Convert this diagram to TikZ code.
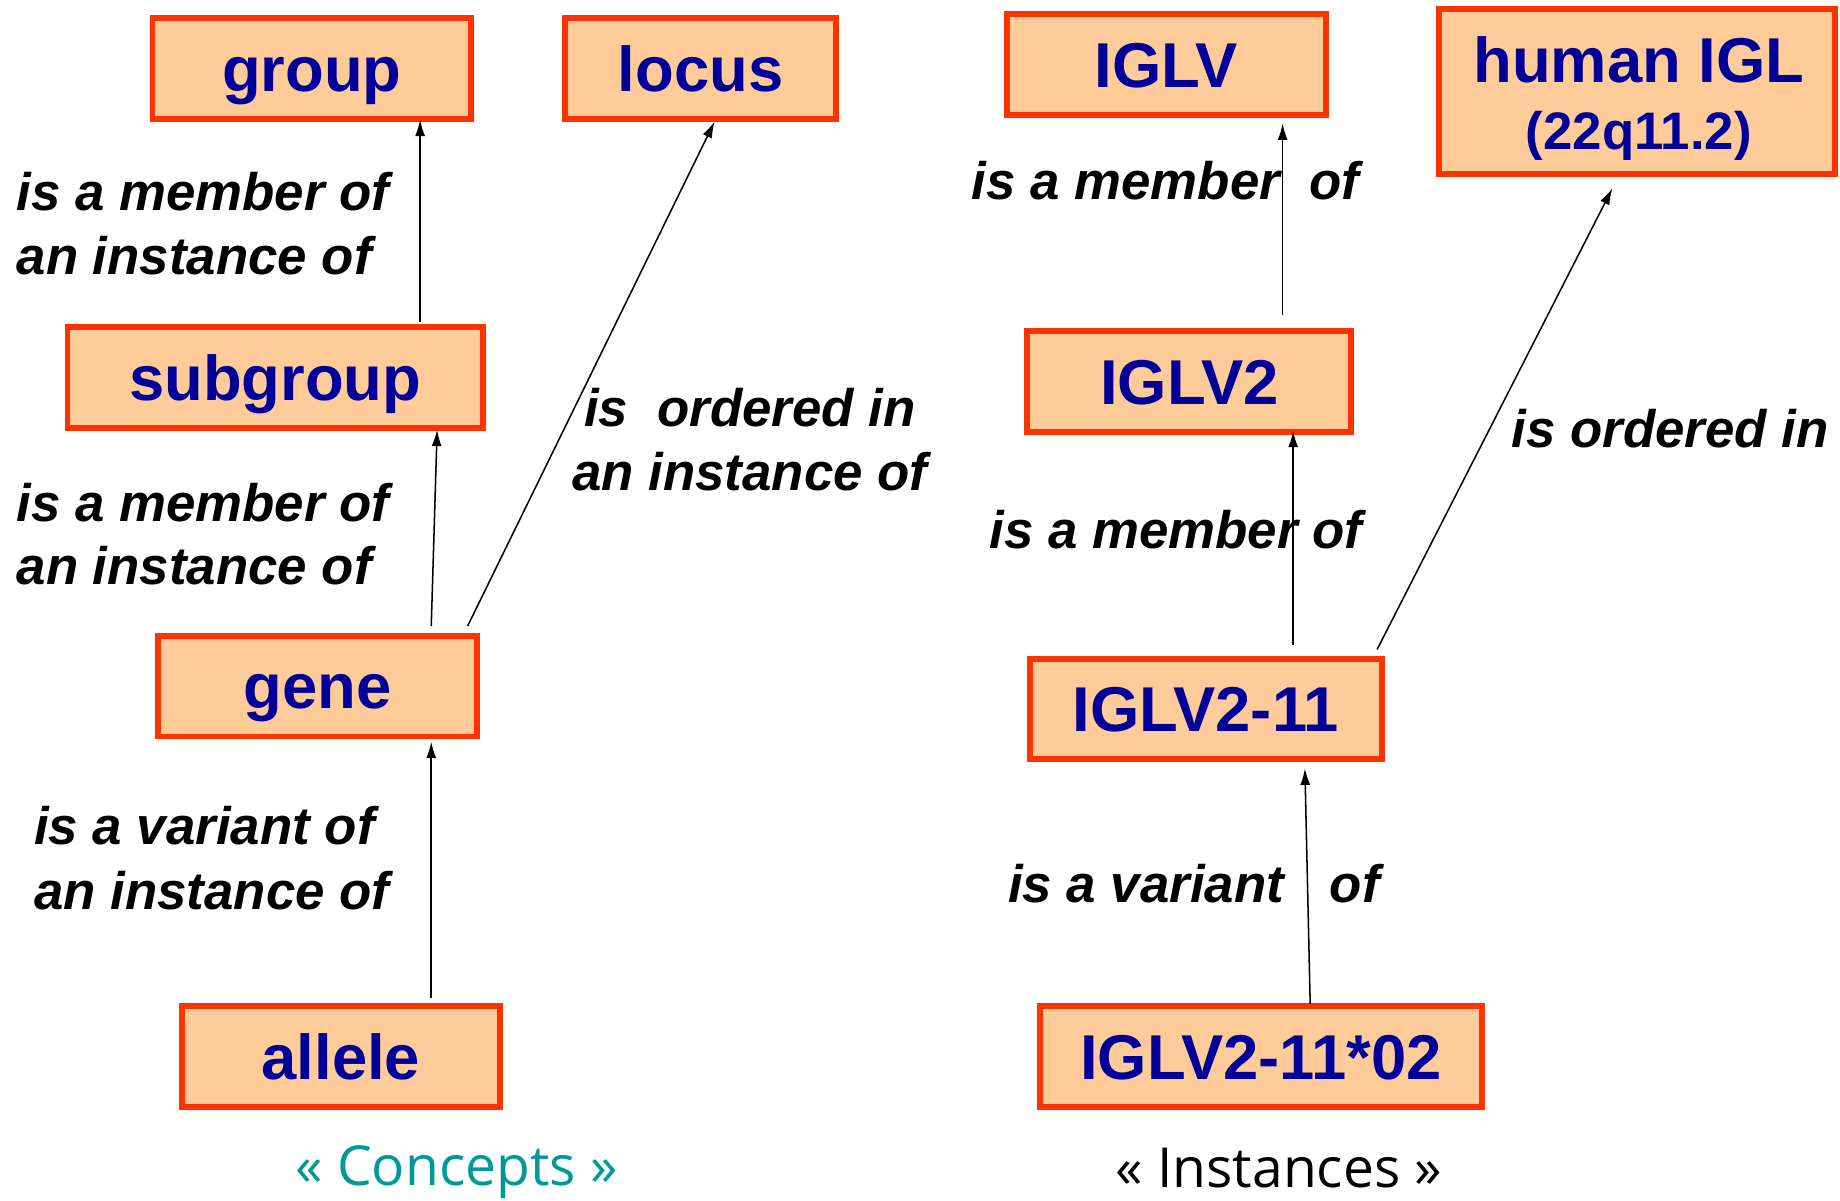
\documentclass[tikz,border=0pt]{standalone}
\usepackage{fontspec}
\setmainfont{Liberation Sans}
\newfontfamily\capfont{Open Sans}
\usetikzlibrary{arrows.meta,calc}
\definecolor{boxfill}{HTML}{FFCC99}
\definecolor{boxline}{HTML}{FF3300}
\definecolor{boxtext}{HTML}{000099}
\definecolor{capteal}{HTML}{009999}
\begin{document}
\begin{tikzpicture}[x=1pt,y=-1pt,
  box/.style={draw=boxline, fill=boxfill, line width=5pt, inner sep=0pt,
    minimum height=85.7pt, text=boxtext,
    font=\fontsize{54}{60}\selectfont\bfseries, text height=38.7pt, text depth=0pt},
  boxtxt/.style={anchor=base, inner sep=0pt, text=boxtext},
  lbl/.style={anchor=base west, inner sep=0pt, font=\fontsize{45}{50}\selectfont\bfseries\itshape},
  captext/.style={anchor=base west, inner sep=0pt, font=\fontsize{47}{52}\selectfont\capfont},
  arr/.style={line width=1.3pt, -{Latex[length=14pt,width=8.5pt]}}]
\useasboundingbox (0,0) rectangle (1568,1023.4);

% concept boxes
\node[box, minimum width=271.5pt] (group) at (265.75,58.35) {group};
\node[box, minimum width=231pt] (locus) at (597,58.35) {locus};
\node[box, minimum width=354pt] (subgroup) at (234.5,321.75) {subgroup};
\node[box, minimum width=271.5pt] (gene) at (270.75,584.75) {gene};
\node[box, minimum width=271pt] (allele) at (290.5,900.3) {allele};

% instance boxes
\node[box, minimum width=272pt] (iglv) at (994,55.1) {IGLV};
\node[box, minimum width=337pt, minimum height=140.8pt] (human) at (1395,77.8) {};
\node[boxtxt, font=\fontsize{54}{60}\selectfont\bfseries] (humanA) at (1396.5,70) {human IGL};
\node[boxtxt, font=\fontsize{45}{50}\selectfont\bfseries] (humanB) at (1396.5,127) {(22q11.2)};
\node[box, minimum width=276pt] (iglv2) at (1013.5,325.1) {IGLV2};
\node[box, minimum width=300pt] (iglv211) at (1027.5,604.25) {IGLV2-11};
\node[box, minimum width=376.5pt] (allele02) at (1074.75,900.3) {IGLV2-11*02};

% arrows
\draw[arr] ($(subgroup.north)+(123.5,-2.4)$) -- ($(group.south)+(92.25,-1.7)$);
\draw[arr] ($(gene.north)+(96.75,-5.9)$) -- ($(subgroup.south)+(138,-1)$);
\draw[arr] ($(gene.north)+(127.75,-5.9)$) -- ($(locus.south)+(12,-0.2)$);
\draw[arr] ($(allele.north)+(77,-4.85)$) -- ($(gene.south)+(96.75,1.9)$);
\draw[arr] ($(iglv2.north)+(79.5,-10.95)$) -- ($(iglv.south)+(99,4.75)$);
\draw[arr] ($(iglv211.north)+(74.5,-9.4)$) -- ($(iglv2.south)+(88.5,-3.35)$);
\draw[arr] ($(iglv211.north)+(146,-5.4)$) -- ($(human.south)+(-21,9.8)$);
\draw[arr] ($(allele02.north)+(41.75,0.55)$) -- ($(iglv211.south)+(84.5,5.3)$);

% labels (concepts)
\node[lbl] (l1a) at (14,179) {is a member of};
\node[lbl] (l1b) at (14,234) {an instance of};
\node[lbl] (l2a) at (14,444) {is a member of};
\node[lbl] (l2b) at (14,498) {an instance of};
\node[lbl] (l3a) at (497.5,363.6) {is\ \ ordered in};
\node[lbl] (l3b) at (487.5,418) {an instance of};
\node[lbl] (l4a) at (29,720) {is a variant of};
\node[lbl] (l4b) at (29,775) {an instance of};

% labels (instances)
\node[lbl] (r1) at (828,170) {is a member\ \ of};
\node[lbl] (r2) at (1288,381.5) {is ordered in};
\node[lbl] (r3) at (843,467) {is a member of};
\node[lbl] (r4) at (859,768.7) {is a variant\hspace{39pt}of};

% captions
\node[captext, text=capteal] (concepts) at (251.5,1010) {« Concepts »};
\node[captext, text=black] (instances) at (950.5,1012) {« Instances »};
\end{tikzpicture}
\end{document}
